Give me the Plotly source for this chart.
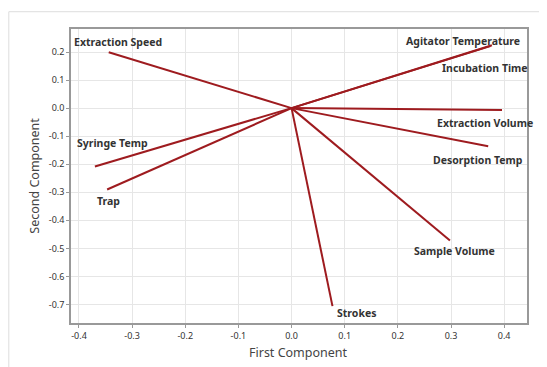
import plotly.graph_objects as go

variables = ["Extraction Speed", "Syringe Temp", "Trap", "Agitator Temperature",
             "Incubation Time", "Extraction Volume", "Desorption Temp",
             "Sample Volume", "Strokes"]
pc1 = [-0.344, -0.370, -0.347, 0.377, 0.374, 0.396, 0.370, 0.298, 0.077]
pc2 = [0.199, -0.208, -0.290, 0.224, 0.221, -0.007, -0.136, -0.472, -0.706]
label_x = [-0.3275, -0.3365, -0.3446, 0.3224, 0.3646, 0.3635, 0.3516, 0.3066, 0.1215]
label_y = [0.2368, -0.1259, -0.3327, 0.2404, 0.1427, -0.0521, -0.184, -0.511, -0.7297]

x_ticks = [-0.4, -0.3, -0.2, -0.1, 0.0, 0.1, 0.2, 0.3, 0.4]
y_ticks = [0.2, 0.1, 0.0, -0.1, -0.2, -0.3, -0.4, -0.5, -0.6, -0.7]

fig = go.Figure()
for name, x, y in zip(variables, pc1, pc2):
    fig.add_trace(go.Scatter(x=[0, x], y=[0, y], mode="lines", name=name,
                             line=dict(color="#9e1b1f", width=2), showlegend=False,
                             hoverinfo="skip"))

for name, lx, ly in zip(variables, label_x, label_y):
    fig.add_annotation(x=lx, y=ly, text="<b>" + name + "</b>", showarrow=False,
                       xanchor="center", yanchor="middle",
                       font=dict(family="Noto Sans", size=10.5, color="#333333"))

# axis titles
fig.add_annotation(xref="paper", yref="paper", x=(298.7 - 71) / 456, y=(323.3 - 353.3) / 294,
                   text="First Component", showarrow=False, xanchor="center", yanchor="middle",
                   font=dict(family="Noto Sans", size=12.5, color="#444444"))
fig.add_annotation(xref="paper", yref="paper", x=(34.3 - 71) / 456, y=(323.3 - 175.7) / 294,
                   text="Second Component", showarrow=False, xanchor="center", yanchor="middle",
                   textangle=-90,
                   font=dict(family="Noto Sans", size=12.5, color="#444444"))

fig.add_shape(type="line", xref="paper", yref="paper", x0=-0.1364, x1=1.06,
              y0=1.0588, y1=1.0588, line=dict(color="#dddddd", width=1))
fig.add_shape(type="line", xref="paper", yref="paper", x0=-0.1364, x1=-0.1364,
              y0=1.0588, y1=-0.16, line=dict(color="#dddddd", width=1))

fig.update_layout(
    width=539, height=359,
    margin=dict(l=63, r=20, t=21, b=44, autoexpand=False),
    plot_bgcolor="white", paper_bgcolor="white",
    font=dict(family="Noto Sans", color="#333333"),
    xaxis=dict(range=[-0.415, 0.443], tickvals=x_ticks,
               ticktext=[f"{v:.1f}" for v in x_ticks], automargin=False,
               showgrid=True, gridcolor="#e6e6e6", gridwidth=1, zeroline=False,
               showline=True, linecolor="#999999", linewidth=1.5, mirror=True,
               ticks="outside", ticklen=3, tickcolor="#999999",
               tickfont=dict(size=9, color="#333333")),
    yaxis=dict(range=[-0.766, 0.282], tickvals=y_ticks,
               ticktext=[f"{v:.1f}" for v in y_ticks], automargin=False,
               showgrid=True, gridcolor="#e6e6e6", gridwidth=1, zeroline=False,
               showline=True, linecolor="#999999", linewidth=1.5, mirror=True,
               ticks="outside", ticklen=3, tickcolor="#999999",
               tickfont=dict(size=9, color="#333333")),
)

fig.write_html("out.html")
